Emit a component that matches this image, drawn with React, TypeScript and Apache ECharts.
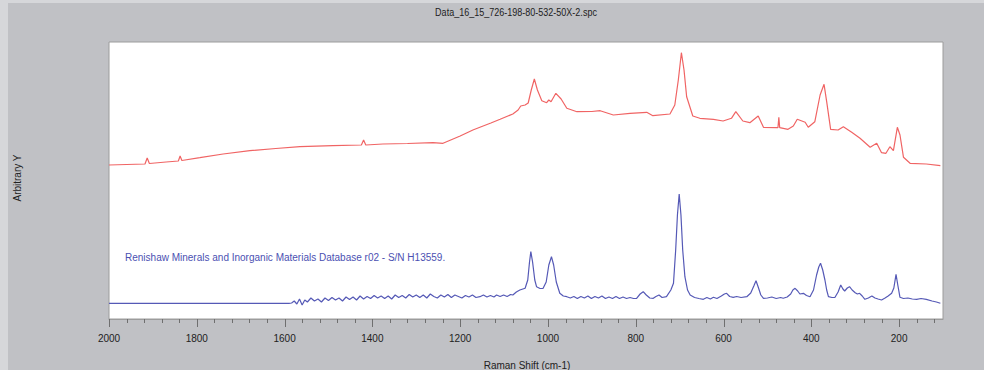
import React, { useEffect, useRef } from "react";
import * as echarts from "echarts";

const titleText = "Data_16_15_726-198-80-532-50X-2.spc";
const xAxisName = "Raman Shift (cm-1)";
const yAxisName = "Arbitrary Y";
const annotation = "Renishaw Minerals and Inorganic Materials Database r02 - S/N H13559.";

const majorTicks = [2000, 1800, 1600, 1400, 1200, 1000, 800, 600, 400, 200];
const minorTicks = [
  1960, 1920, 1880, 1840, 1760, 1720, 1680, 1640, 1560, 1520, 1480, 1440, 1360, 1320, 1280, 1240,
  1160, 1120, 1080, 1040, 960, 920, 880, 840, 760, 720, 680, 640, 560, 520, 480, 440, 360, 320,
  280, 240, 160, 120,
];

// Measured spectrum (sample) – Raman shift and intensity (arbitrary units)
const sampleShift = [
  2000, 1960, 1918, 1913, 1908, 1870, 1842, 1838, 1834, 1793, 1740, 1679, 1620, 1565, 1490, 1425,
  1420, 1415, 1376, 1320, 1262, 1239, 1200, 1171, 1155, 1130, 1109, 1080, 1068, 1062, 1052, 1045,
  1038, 1031, 1024, 1014, 1003, 998, 993, 982, 970, 957, 934, 900, 881, 851, 813, 775, 761, 722,
  711, 703, 696, 690, 684, 670, 654, 623, 601, 582, 572, 556, 540, 521, 509, 479, 476, 474, 472,
  453, 441, 432, 414, 407, 392, 380, 371, 365, 356, 339, 327, 308, 289, 266, 251, 240, 230, 221,
  213, 204, 198, 190, 175, 138, 106,
];
const sampleIntensity = [
  154, 154.5, 155, 161, 155.5, 157, 158, 163, 158.5, 161.3, 165, 168.3, 170.5, 172.3, 173.3, 174,
  179, 174, 175, 175.5, 176.3, 175.7, 183, 189, 191.7, 196, 199.7, 205, 209, 213, 214, 216,
  229, 240, 229, 218.3, 216.3, 219, 217.3, 225.7, 220, 210.7, 207.3, 207.5, 208.3, 204, 205.7, 206.7, 203.3, 205,
  214, 239, 266.3, 249, 222.3, 203, 200.7, 199.7, 198, 200.7, 207.3, 198, 196.3, 203, 191.7, 191.3, 191.3, 201.7, 191.3,
  189.7, 193, 199.7, 196.7, 191.7, 197.3, 224, 234.7, 217.3, 189.7, 189, 192.3, 186.7, 180.7, 171.7, 175.7, 166.3, 165.7, 172.3,
  168.3, 191.7, 184, 161.7, 155.7, 155, 153.3,
];

// Reference spectrum (database) – Raman shift and intensity (arbitrary units)
const referenceShift = [
  2000, 1590, 1584, 1578, 1572, 1566, 1560, 1554, 1548, 1540, 1532, 1524, 1516, 1508, 1500, 1492,
  1484, 1476, 1468, 1460, 1452, 1444, 1436, 1428, 1420, 1412, 1404, 1396, 1388, 1380, 1372, 1364,
  1356, 1348, 1340, 1332, 1324, 1316, 1308, 1300, 1292, 1284, 1276, 1268, 1260, 1252, 1244, 1236,
  1228, 1220, 1212, 1204, 1196, 1188, 1180, 1172, 1164, 1155, 1147, 1139, 1131, 1123, 1117, 1109,
  1101, 1093, 1085, 1080, 1072, 1064, 1052, 1046, 1042, 1039, 1035, 1030, 1026, 1018, 1011, 1004,
  998, 992, 987, 981, 973, 965, 957, 949, 941, 933, 925, 917, 909, 901, 893, 885, 877, 869, 861,
  853, 845, 837, 829, 821, 813, 805, 798, 790, 783, 776, 768, 760, 754, 747, 740, 730, 720, 714,
  709, 705, 701, 697, 693, 688, 682, 676, 666, 656, 646, 638, 630, 623, 615, 605, 598, 593, 586,
  578, 570, 560, 547, 538, 531, 526, 521, 515, 509, 500, 490, 480, 470, 464, 455, 447, 442, 437,
  431, 426, 418, 411, 403, 395, 388, 383, 379, 374, 369, 365, 361, 353, 346, 339, 333, 328, 324,
  318, 313, 307, 300, 295, 290, 284, 278, 270, 262, 255, 248, 240, 232, 225, 217, 212, 207, 203,
  198, 190, 180, 170, 160, 150, 138, 125, 115, 106,
];
const referenceIntensity = [
  15.7, 15.7, 16, 18, 15, 20, 14, 19, 17, 21, 18, 20, 17, 21, 18.5, 21.5,
  19, 21, 18, 22, 19.5, 22, 19, 23, 20, 22.5, 20.5, 23.5, 21, 23, 20.5, 23,
  20, 24, 21.5, 23.5, 21, 24.5, 22, 24, 21.5, 24, 21, 25, 22.5, 21, 24, 22,
  24.5, 21.5, 24, 22.5, 21, 23.5, 22, 24, 21.5, 22.3, 24, 22, 23.5, 22, 24, 22.5,
  24, 22.5, 24.5, 24, 27, 29, 30.7, 39, 57, 67.3, 57, 39, 32.3, 30.5, 30.7, 37,
  54, 62.3, 54, 37, 25.7, 23, 22.3, 21, 22.5, 20.5, 22.5, 21, 23, 20.5, 22.5, 21, 23, 20.5, 22,
  20.5, 22.5, 20.5, 22, 20.5, 21.5, 20.5, 20.7, 25, 27.3, 24, 21, 20.7, 22.5, 24, 21.5, 22.3, 29, 35.7,
  69, 104, 125, 104, 69, 42.3, 29, 24, 21.5, 20.5, 19.7, 21.5, 20, 21.7, 20.5, 23, 25, 25.7, 22.5,
  21.7, 22.5, 21.5, 22.3, 26, 33, 38.3, 32, 24, 20.7, 21, 22, 20.5, 21.5, 20.7, 22, 25, 29, 30.7,
  28, 25, 25.7, 23.5, 22.3, 29, 44, 52, 55.7, 49, 39, 29, 22.3, 21.5, 21.7, 27, 34, 30, 28,
  31, 32.3, 29, 26.3, 25, 25.7, 23, 19.7, 21, 23, 21, 20, 19, 21, 23, 25.7, 31, 44.7, 34,
  21.7, 20.5, 21, 20, 19.7, 20.5, 19.7, 18, 17, 15.7,
];

const sampleData = sampleShift.map((x, i) => [x, sampleIntensity[i]]);
const referenceData = referenceShift.map((x, i) => [x, referenceIntensity[i]]);

const FONT = "'Liberation Sans', Arial, sans-serif";

function tickSeries(values: number[], len: number) {
  return {
    type: "custom",
    silent: true,
    clip: false,
    data: values.map((v) => [v, 0]),
    renderItem: (_params: any, api: any) => {
      const p = api.coord([api.value(0), 0]);
      const x = Math.round(p[0]) + 0.5;
      const y = Math.round(p[1]);
      return {
        type: "line",
        shape: { x1: x, y1: y, x2: x, y2: y + len },
        style: { stroke: "#6f6f6f", lineWidth: 1 },
      };
    },
  };
}

export default function App() {
  const ref = useRef<HTMLDivElement>(null);

  useEffect(() => {
    if (!ref.current) return;
    const chart = echarts.init(ref.current, undefined, { renderer: "svg" });
    chart.setOption({
      animation: false,
      backgroundColor: "#c0c1c5",
      graphic: [
        { type: "rect", left: 0, top: 0, shape: { width: 8, height: 370 }, style: { fill: "#d6d7da" }, silent: true },
        { type: "rect", left: 0, top: 0, shape: { width: 984, height: 3 }, style: { fill: "#d6d7da" }, silent: true },
        {
          type: "text",
          x: 516,
          y: 12,
          scaleX: 0.82,
          style: {
            text: titleText,
            fontFamily: FONT,
            fontSize: 11,
            fill: "#222",
            align: "center",
            verticalAlign: "middle",
          },
        },
        {
          type: "text",
          x: 17,
          y: 178,
          rotation: Math.PI / 2,
          style: {
            text: yAxisName,
            fontFamily: FONT,
            fontSize: 10,
            fill: "#222",
            align: "center",
            verticalAlign: "middle",
          },
        },
        {
          type: "text",
          x: 527,
          y: 365,
          style: {
            text: xAxisName,
            fontFamily: FONT,
            fontSize: 10,
            fill: "#222",
            align: "center",
            verticalAlign: "middle",
          },
        },
        {
          type: "text",
          x: 125,
          y: 257,
          style: {
            text: annotation,
            fontFamily: FONT,
            fontSize: 10,
            fill: "#4b50b2",
            align: "left",
            verticalAlign: "middle",
          },
        },
      ],
      grid: {
        left: 109,
        right: 41,
        top: 42,
        bottom: 51,
        show: true,
        backgroundColor: "#ffffff",
        borderColor: "#9c9c9c",
        borderWidth: 1,
      },
      xAxis: {
        type: "value",
        min: 100,
        max: 2000,
        inverse: true,
        position: "bottom",
        splitLine: { show: false },
        axisLine: { show: true, lineStyle: { color: "#9c9c9c" } },
        axisTick: { show: false },
        axisLabel: {
          show: true,
          customValues: majorTicks,
          margin: 14,
          fontFamily: FONT,
          fontSize: 10,
          color: "#222",
          formatter: (v: number) => String(v),
        },
      },
      yAxis: {
        type: "value",
        min: 0,
        max: 277,
        show: false,
        splitLine: { show: false },
      },
      series: [
        tickSeries(majorTicks, 8),
        tickSeries(minorTicks, 4),
        {
          type: "line",
          data: sampleData,
          showSymbol: false,
          symbol: "none",
          lineStyle: { color: "#f06464", width: 1.2 },
        },
        {
          type: "line",
          data: referenceData,
          showSymbol: false,
          symbol: "none",
          lineStyle: { color: "#5559b6", width: 1.2 },
        },
      ],
    });
    return () => chart.dispose();
  }, []);

  return (
    <div
      ref={ref}
      style={{ position: "fixed", left: 0, top: 0, width: 984, height: 370 }}
    />
  );
}
